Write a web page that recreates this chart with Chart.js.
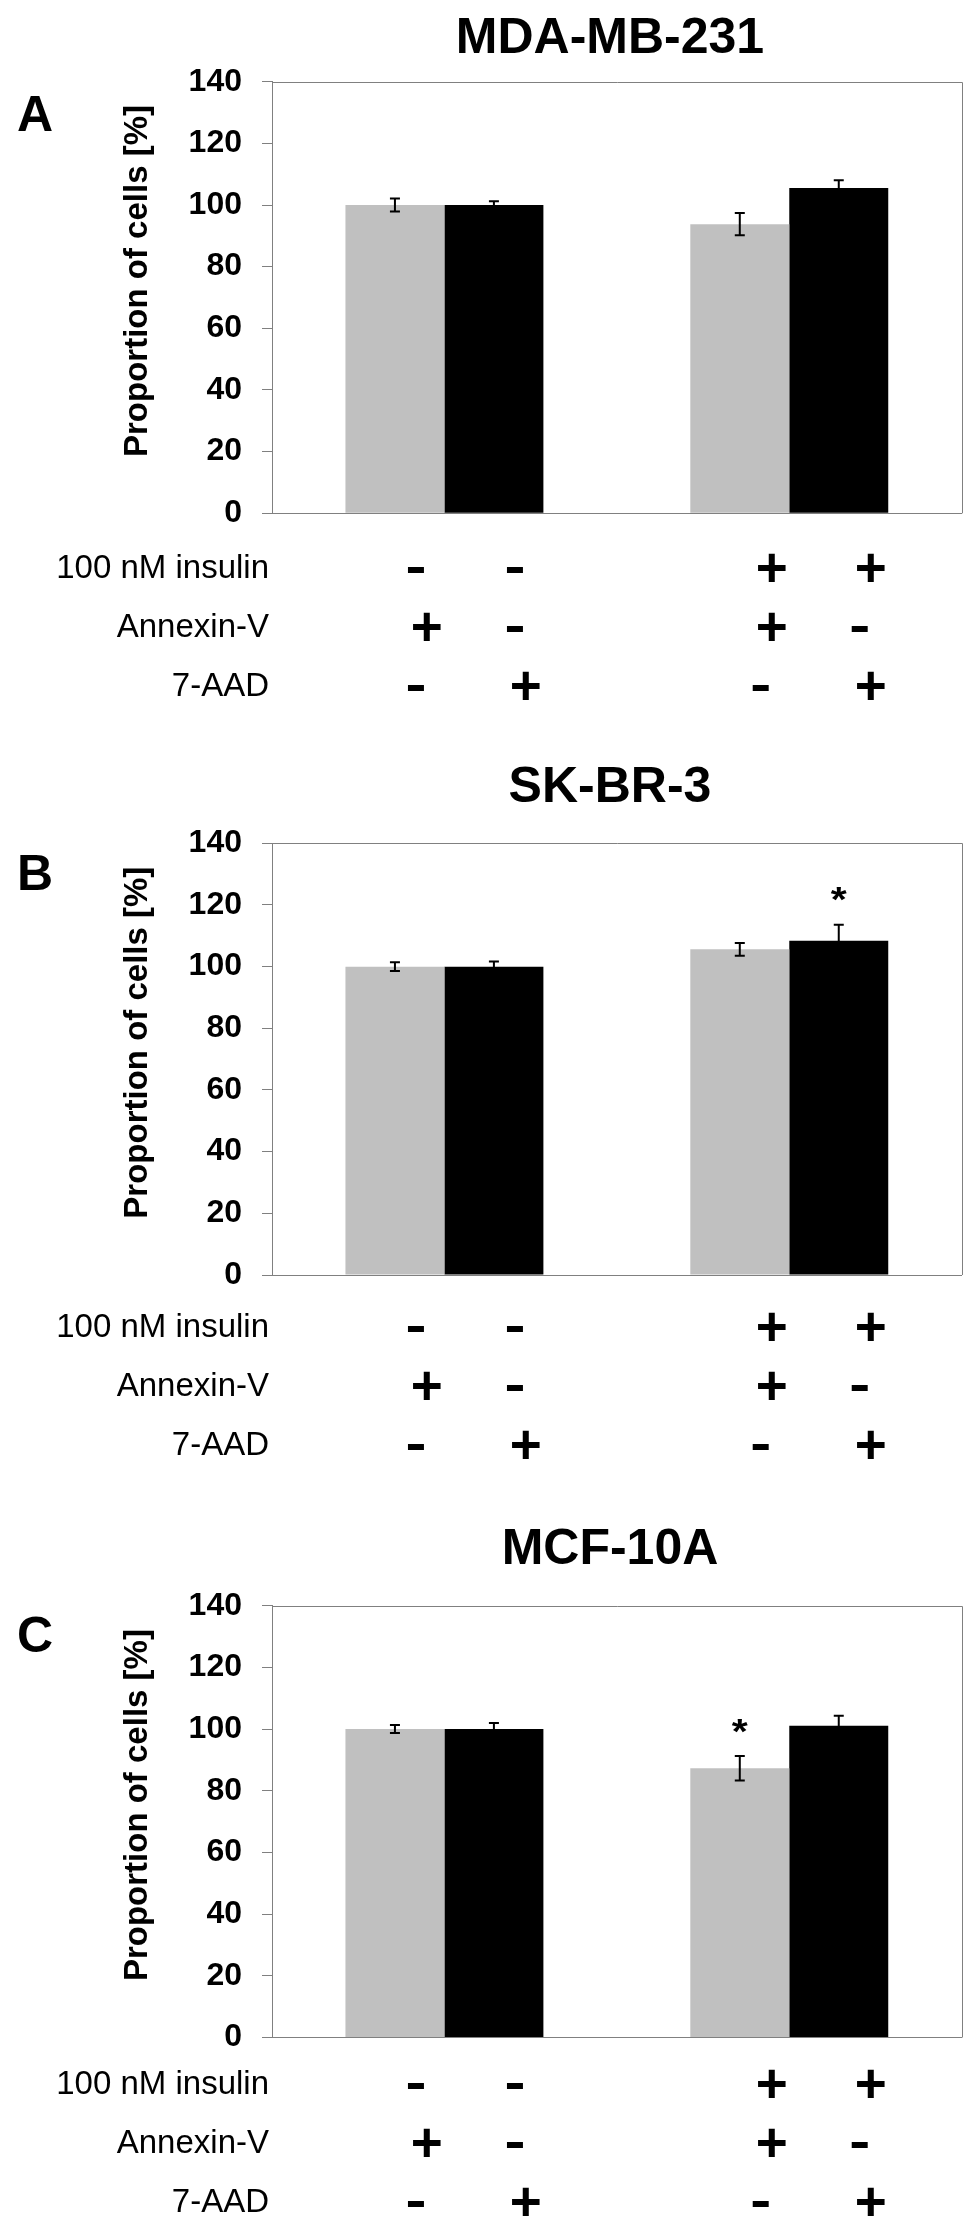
<!DOCTYPE html>
<html>
<head>
<meta charset="utf-8">
<script src="https://cdn.jsdelivr.net/npm/chart.js@4.4.0/dist/chart.umd.min.js"></script>
<style>
body { margin: 0; background: #fff; }
#wrap { position: relative; width: 980px; height: 2233px; }
#wrap canvas { position: absolute; left: 0; }
</style>
</head>
<body>
<div id="wrap"></div>
<script>
// data
var cellLines = ['MDA-MB-231', 'SK-BR-3', 'MCF-10A'];
var panelLetters = ['A', 'B', 'C'];
var groups = ['control', '100 nM insulin'];
var seriesNames = ['Annexin-V', '7-AAD'];
var annexinMean = [[100, 93.8], [100, 105.6], [100, 87.3]];
var annexinErr = [[2.1, 3.6], [1.4, 2.1], [1.3, 4.0]];
var aadMean = [[100, 105.5], [100, 108.4], [100, 101.1]];
var aadErr = [[1.2, 2.5], [1.7, 5.2], [2.0, 3.2]];
var annexinStar = [[0, 0], [0, 0], [0, 1]];
var aadStar = [[0, 0], [0, 1], [0, 0]];
var rowLabels = ['100 nM insulin', 'Annexin-V', '7-AAD'];
// signs under the bars, left to right
var insulinSigns = ['-', '-', '+', '+'];
var annexinSigns = ['+', '-', '+', '-'];
var aadSigns = ['-', '+', '-', '+'];
var yMin = 0, yMax = 140, yStep = 20;

// panel placement (pixels)
var panelBoxes = [
    { top: 0,    height: 745, plotTop: 81.7,  plotBottom: 513.3, titleGap: 28.4, letterDrop: 49, rowDrop: 64.4 },
    { top: 745,  height: 745, plotTop: 98.3,  plotBottom: 530,   titleGap: 41.6, letterDrop: 47, rowDrop: 62 },
    { top: 1490, height: 743, plotTop: 115.7, plotBottom: 547.5, titleGap: 41.4, letterDrop: 46, rowDrop: 56.6 }
];

var FONT = "'Liberation Sans', Arial, Helvetica, sans-serif";
var LINE = '#808080';
Chart.defaults.font.family = FONT;
Chart.defaults.color = '#000';

// draw one glyph so that its ink fits a w x h box centred on (cx, cy)
function fitGlyph(ctx, ch, cx, cy, w, h) {
    ctx.save();
    ctx.font = 'bold 100px ' + FONT;
    var m = ctx.measureText(ch);
    var iw = m.actualBoundingBoxLeft + m.actualBoundingBoxRight;
    var ih = m.actualBoundingBoxAscent + m.actualBoundingBoxDescent;
    ctx.translate(cx, cy);
    ctx.scale(w / iw, h / ih);
    ctx.textAlign = 'left';
    ctx.textBaseline = 'alphabetic';
    ctx.fillStyle = '#000';
    ctx.fillText(ch, -(m.actualBoundingBoxRight - m.actualBoundingBoxLeft) / 2,
                 (m.actualBoundingBoxAscent - m.actualBoundingBoxDescent) / 2);
    ctx.restore();
}

var panelDecor = {
    id: 'panelDecor',
    afterDatasetsDraw: function(chart, args, opts) {
        var p = opts.panel;
        var box = panelBoxes[p];
        var ctx = chart.ctx;
        var area = chart.chartArea;
        var ys = chart.scales.y;
        var means = [annexinMean[p], aadMean[p]];
        var errs = [annexinErr[p], aadErr[p]];
        var stars = [annexinStar[p], aadStar[p]];

        ctx.save();
        // top and right frame
        ctx.strokeStyle = LINE;
        ctx.lineWidth = 1;
        ctx.beginPath();
        ctx.moveTo(area.left, Math.round(area.top) + 0.5);
        ctx.lineTo(Math.round(area.right) + 0.5, Math.round(area.top) + 0.5);
        ctx.lineTo(Math.round(area.right) + 0.5, area.bottom);
        ctx.stroke();

        // error bars and stars
        ctx.strokeStyle = '#000';
        ctx.lineWidth = 2;
        for (var d = 0; d < 2; d++) {
            var meta = chart.getDatasetMeta(d);
            for (var i = 0; i < means[d].length; i++) {
                var x = meta.data[i].x;
                var yHi = ys.getPixelForValue(means[d][i] + errs[d][i]);
                var yLo = ys.getPixelForValue(means[d][i] - errs[d][i]);
                ctx.beginPath();
                ctx.moveTo(x, yHi); ctx.lineTo(x, yLo);
                ctx.moveTo(x - 5, yHi); ctx.lineTo(x + 5, yHi);
                ctx.moveTo(x - 5, yLo); ctx.lineTo(x + 5, yLo);
                ctx.stroke();
                if (stars[d][i]) fitGlyph(ctx, '*', x, yHi - 31, 16, 13.5);
            }
        }

        // title and panel letter
        ctx.fillStyle = '#000';
        ctx.font = 'bold 50px ' + FONT;
        ctx.textAlign = 'center';
        ctx.textBaseline = 'alphabetic';
        ctx.fillText(cellLines[p], 610, area.top - box.titleGap);
        ctx.textAlign = 'left';
        ctx.fillText(panelLetters[p], 17, area.top + box.letterDrop);

        // y axis title
        ctx.save();
        ctx.font = 'bold 33px ' + FONT;
        ctx.translate(147, (area.top + area.bottom) / 2 - 16.5);
        ctx.rotate(-Math.PI / 2);
        ctx.textAlign = 'center';
        ctx.fillText('Proportion of cells [%]', 0, 0);
        ctx.restore();

        // treatment rows
        var y0 = ys.getPixelForValue(0);
        var signRows = [insulinSigns, annexinSigns, aadSigns];
        var barX = [];
        for (var g = 0; g < groups.length; g++) {
            for (var s = 0; s < seriesNames.length; s++) {
                barX.push(chart.getDatasetMeta(s).data[g].x);
            }
        }
        ctx.font = '33px ' + FONT;
        ctx.textAlign = 'right';
        for (var r = 0; r < rowLabels.length; r++) {
            var base = y0 + box.rowDrop + r * 59;
            ctx.fillText(rowLabels[r], 269, base);
            for (var k = 0; k < barX.length; k++) {
                if (signRows[r][k] === '+') fitGlyph(ctx, '+', barX[k], base - 10, 28, 28);
                else fitGlyph(ctx, '-', barX[k], base - 8, 17, 6);
            }
        }
        ctx.restore();
    }
};

function makePanel(p) {
    var box = panelBoxes[p];
    var cv = document.createElement('canvas');
    cv.width = 980;
    cv.height = box.height;
    cv.style.top = box.top + 'px';
    document.getElementById('wrap').appendChild(cv);

    new Chart(cv, {
        type: 'bar',
        data: {
            labels: groups,
            datasets: [{
                label: seriesNames[0],
                data: annexinMean[p],
                backgroundColor: '#c0c0c0',
                borderWidth: 0
            }, {
                label: seriesNames[1],
                data: aadMean[p],
                backgroundColor: '#000000',
                borderWidth: 0
            }]
        },
        options: {
            responsive: false,
            animation: false,
            events: [],
            layout: { padding: { top: box.plotTop, right: 980 - 961.7, left: 0, bottom: 0 } },
            datasets: { bar: { categoryPercentage: 0.574, barPercentage: 1.0 } },
            plugins: {
                legend: { display: false },
                tooltip: { enabled: false },
                title: { display: false },
                panelDecor: { panel: p }
            },
            scales: {
                x: {
                    ticks: { display: false },
                    grid: { display: false },
                    border: { display: true, color: LINE, width: 1 },
                    afterFit: function(scale) { scale.height = box.height - box.plotBottom; }
                },
                y: {
                    min: yMin,
                    max: yMax,
                    ticks: {
                        stepSize: yStep,
                        padding: 20,
                        color: '#000',
                        font: { size: 32, weight: 'bold' }
                    },
                    grid: { drawOnChartArea: false, drawTicks: true, tickLength: 10, color: LINE, lineWidth: 1 },
                    border: { display: true, color: LINE, width: 1 },
                    afterFit: function(scale) { scale.width = 272; }
                }
            }
        },
        plugins: [panelDecor]
    });
}

for (var p = 0; p < cellLines.length; p++) makePanel(p);
</script>
</body>
</html>
